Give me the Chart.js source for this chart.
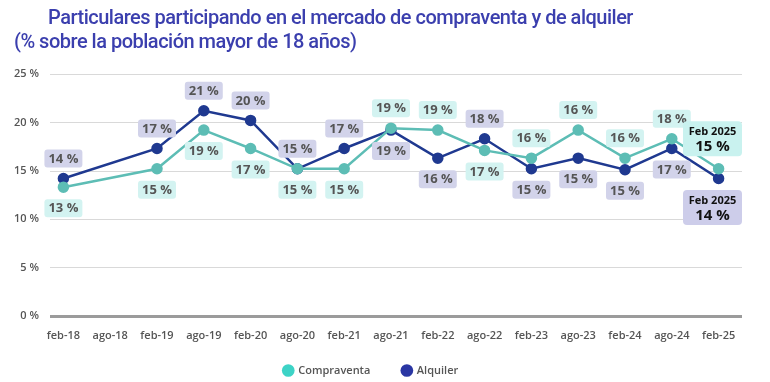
<!DOCTYPE html>
<html>
<head>
<meta charset="utf-8">
<script src="https://cdn.jsdelivr.net/npm/chart.js@4"></script>
<style>
  body { margin: 0; background: #fff; }
  #wrap { position: relative; width: 770px; height: 382px; }
  canvas { position: absolute; left: 0; top: 0; }
  #title { position: absolute; left: 0; top: 5px; font-family: Roboto, sans-serif; font-weight: 500;
           font-size: 20px; line-height: 24px; color: #3b3fae; letter-spacing: -0.5px; }
  #title .l1 { padding-left: 48px; }
  #title .l2 { padding-left: 14px; }
</style>
</head>
<body>
<div id="wrap">
  <canvas id="chart" width="770" height="382"></canvas>
  <div id="title">
    <div class="l1">Particulares participando en el mercado de compraventa y de alquiler</div>
    <div class="l2">(% sobre la población mayor de 18 años)</div>
  </div>
</div>
<script>
// periodos (semestres)
const categories = ['feb-18', 'ago-18', 'feb-19', 'ago-19', 'feb-20', 'ago-20', 'feb-21', 'ago-21',
                    'feb-22', 'ago-22', 'feb-23', 'ago-23', 'feb-24', 'ago-24', 'feb-25'];

// % de la población
const compraventa = [13.3, null, 15.2, 19.2, 17.3, 15.2, 15.2, 19.4, 19.2, 17.1, 16.3, 19.2, 16.3, 18.3, 15.2];
const alquiler    = [14.2, null, 17.3, 21.2, 20.2, 15.2, 17.3, 19.2, 16.3, 18.3, 15.2, 16.3, 15.1, 17.3, 14.2];

// etiquetas tal como aparecen en el gráfico
const compraventaLabels = ['13 %', null, '15 %', '19 %', '17 %', '15 %', '15 %', '19 %', '19 %', '17 %',
                           '16 %', '16 %', '16 %', '18 %', 'Feb 2025\n15 %'];
const alquilerLabels    = ['14 %', null, '17 %', '21 %', '20 %', '15 %', '17 %', '19 %', '16 %', '18 %',
                           '15 %', '15 %', '15 %', '17 %', 'Feb 2025\n14 %'];

const yTicks = [0, 5, 10, 15, 20, 25];

const FONT = '"Open Sans", sans-serif';

// gridlines horizontales (la de 0 % más gruesa)
const gridPlugin = {
  id: 'grid',
  beforeDatasetsDraw(chart) {
    const { ctx, chartArea, scales: { y } } = chart;
    ctx.save();
    yTicks.forEach(v => {
      const py = Math.round(y.getPixelForValue(v)) + 0.5;
      ctx.beginPath();
      ctx.lineWidth = v === 0 ? 3 : 1;
      ctx.strokeStyle = v === 0 ? '#9b9b9b' : '#d9d9d9';
      ctx.moveTo(50, py);
      ctx.lineTo(chartArea.right, py);
      ctx.stroke();
    });
    ctx.restore();
  }
};

function roundRect(ctx, x, y, w, h, r) {
  ctx.beginPath();
  ctx.moveTo(x + r, y);
  ctx.arcTo(x + w, y, x + w, y + h, r);
  ctx.arcTo(x + w, y + h, x, y + h, r);
  ctx.arcTo(x, y + h, x, y, r);
  ctx.arcTo(x, y, x + w, y, r);
  ctx.closePath();
}

// etiquetas con fondo: la serie más alta arriba, la otra abajo
const labelPlugin = {
  id: 'boxLabels',
  afterDatasetsDraw(chart) {
    const { ctx, chartArea } = chart;
    const cfg = [
      { idx: 0, labels: compraventaLabels, bg: '#d3f3f1', lastBg: '#c9f2ef' },
      { idx: 1, labels: alquilerLabels, bg: '#d2d3ea', lastBg: '#cdcdea' }
    ];
    ctx.save();
    ctx.textAlign = 'center';
    ctx.textBaseline = 'middle';
    cfg.forEach(c => {
      const meta = chart.getDatasetMeta(c.idx);
      meta.data.forEach((pt, i) => {
        const text = c.labels[i];
        if (!text || pt.skip) return;
        const above = c.idx === 1 ? alquiler[i] >= compraventa[i] : compraventa[i] > alquiler[i];
        const lines = text.split('\n');
        if (lines.length > 1) {
          const w = 59, h = 35;
          let cx = Math.min(pt.x, chartArea.right - w / 2);
          const cy = above ? pt.y - 30 : pt.y + 29;
          ctx.fillStyle = c.lastBg;
          roundRect(ctx, cx - w / 2, cy - h / 2, w, h, 4);
          ctx.fill();
          ctx.fillStyle = '#111';
          ctx.font = `bold 11px ${FONT}`;
          ctx.fillText(lines[0], cx, cy - 7);
          ctx.font = `bold 15px ${FONT}`;
          ctx.fillText(lines[1], cx, cy + 8);
        } else {
          ctx.font = `bold 13px ${FONT}`;
          const w = ctx.measureText(text).width + 8, h = 18;
          const cy = above ? pt.y - 20 : pt.y + 21;
          ctx.fillStyle = c.bg;
          roundRect(ctx, pt.x - w / 2, cy - h / 2, w, h, 3);
          ctx.fill();
          ctx.fillStyle = '#555';
          ctx.fillText(text, pt.x, cy + 0.5);
        }
      });
    });
    ctx.restore();
  }
};

const legendColors = ['#3dd3c6', '#2a36a3'];

new Chart(document.getElementById('chart'), {
  type: 'line',
  data: {
    labels: categories,
    datasets: [
      {
        label: 'Compraventa',
        data: compraventa,
        borderColor: '#5dbdb5',
        backgroundColor: '#5dbdb5',
        borderWidth: 2.5,
        pointRadius: 4.5,
        pointHoverRadius: 4.5,
        spanGaps: true,
        tension: 0
      },
      {
        label: 'Alquiler',
        data: alquiler,
        borderColor: '#1f3990',
        backgroundColor: '#1f3990',
        borderWidth: 2.5,
        pointRadius: 4.5,
        pointHoverRadius: 4.5,
        spanGaps: true,
        tension: 0
      }
    ]
  },
  options: {
    responsive: false,
    animation: false,
    devicePixelRatio: 1,
    layout: { padding: { top: 74, right: 28, left: 0, bottom: -4 } },
    scales: {
      x: {
        offset: true,
        grid: { display: false, drawTicks: false },
        border: { display: false },
        ticks: { font: { family: FONT, size: 11, weight: '600' }, color: '#555', padding: 13,
                 maxRotation: 0, autoSkip: false }
      },
      y: {
        min: 0, max: 25,
        grid: { display: false, drawTicks: false },
        border: { display: false },
        afterFit: s => { s.width = 40; },
        afterBuildTicks: s => { s.ticks = yTicks.map(v => ({ value: v })); },
        ticks: { callback: v => v + ' %', font: { family: FONT, size: 11, weight: '600' }, color: '#555', padding: 1 }
      }
    },
    plugins: {
      legend: {
        position: 'bottom',
        labels: {
          usePointStyle: true,
          boxWidth: 9, boxHeight: 9,
          padding: 10,
          color: '#555',
          font: { family: FONT, size: 11, weight: '600' },
          // espacio extra tras el primer elemento para separar las dos entradas
          generateLabels: chart => chart.data.datasets.map((d, i) => ({
            text: i === 0 ? d.label + '\u2003\u2003' : d.label,
            fillStyle: legendColors[i], strokeStyle: legendColors[i],
            lineWidth: 0, pointStyle: 'circle', datasetIndex: i, fontColor: '#555'
          }))
        }
      },
      tooltip: { enabled: false }
    }
  },
  plugins: [gridPlugin, labelPlugin]
});
</script>
</body>
</html>
